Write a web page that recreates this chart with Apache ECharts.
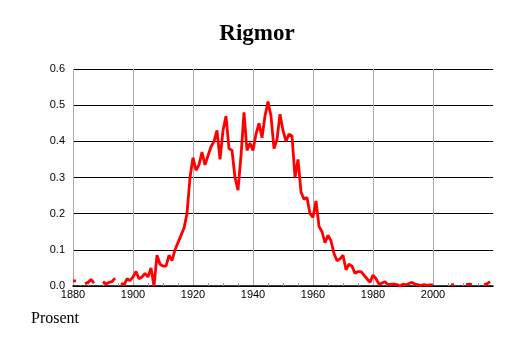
<!DOCTYPE html>
<html>
<head>
<meta charset="utf-8">
<script src="https://cdn.jsdelivr.net/npm/echarts@6/dist/echarts.min.js"></script>
<style>
  html, body { margin: 0; padding: 0; background: #fff; }
  #draw_area { width: 514px; height: 343px; }
</style>
</head>
<body>
<div id="draw_area"></div>
<script>
"use strict";

// årstall og andel (prosent), null = ingen data
var years = [];
for (var y = 1880; y <= 2019; y++) years.push(y);

var values = [
  // 1880-1899
  0.014, 0.014, null, null, 0.006, 0.01, 0.018, 0.008, null, null,
  0.012, 0.005, 0.01, 0.012, 0.022, null, 0.008, 0.003, 0.02, 0.015,
  // 1900-1919
  0.025, 0.04, 0.02, 0.025, 0.035, 0.025, 0.05, 0.0, 0.085, 0.06,
  0.055, 0.055, 0.085, 0.07, 0.1, 0.12, 0.14, 0.16, 0.2, 0.3,
  // 1920-1939
  0.355, 0.32, 0.335, 0.37, 0.335, 0.36, 0.385, 0.4, 0.43, 0.35,
  0.43, 0.47, 0.38, 0.375, 0.3, 0.265, 0.36, 0.48, 0.375, 0.395,
  // 1940-1959
  0.375, 0.42, 0.45, 0.41, 0.47, 0.51, 0.47, 0.38, 0.405, 0.475,
  0.43, 0.4, 0.42, 0.415, 0.3, 0.35, 0.26, 0.24, 0.245, 0.2,
  // 1960-1979
  0.19, 0.235, 0.165, 0.15, 0.12, 0.14, 0.125, 0.09, 0.07, 0.075,
  0.085, 0.045, 0.06, 0.055, 0.035, 0.04, 0.04, 0.03, 0.02, 0.01,
  // 1980-1999
  0.03, 0.02, 0.005, 0.008, 0.012, 0.003, 0.005, 0.005, 0.004, 0.0,
  0.005, 0.003, 0.007, 0.01, 0.005, 0.003, 0.002, 0.004, 0.002, 0.003,
  // 2000-2019
  0.003, null, null, null, null, null, 0.003, 0.004, null, null,
  null, 0.004, 0.005, 0.004, null, null, null, 0.003, 0.006, 0.012
];

var xTicks = [1880, 1900, 1920, 1940, 1960, 1980, 2000];
var yTicks = [0, 0.1, 0.2, 0.3, 0.4, 0.5, 0.6];

var seriesData = years.map(function (yr, i) { return [yr, values[i]]; });

var option = {
  animation: false,
  title: {
    text: 'Rigmor',
    left: 'center',
    top: 18,
    textStyle: { fontFamily: 'Liberation Serif', fontWeight: 'bold', fontSize: 23, color: '#000' }
  },
  graphic: [{
    type: 'text',
    left: 31,
    top: 311,
    style: { text: 'Prosent', font: '16px "Liberation Serif"', fill: '#000' }
  }],
  grid: { left: 73, right: 21, top: 69, bottom: 57 },
  xAxis: {
    type: 'value',
    min: xTicks[0],
    max: 2020,
    interval: 20,
    axisLine: { show: true, lineStyle: { color: '#000', width: 1.5 } },
    axisTick: { show: true, inside: true, length: 0.1, lineStyle: { color: '#aaa' } },
    minorTick: { show: true, splitNumber: 4, length: 3, lineStyle: { color: '#999' } },
    axisLabel: {
      margin: 3,
      fontFamily: 'Liberation Sans',
      fontSize: 11,
      color: '#000',
      showMaxLabel: false,
      formatter: function (v) { return xTicks.indexOf(v) >= 0 ? String(v) : ''; }
    },
    splitLine: { show: true, showMaxLine: false, lineStyle: { color: '#aaa', width: 1 } }
  },
  yAxis: {
    type: 'value',
    min: yTicks[0],
    max: yTicks[yTicks.length - 1],
    interval: 0.1,
    axisLine: { show: false },
    axisTick: { show: false },
    axisLabel: {
      margin: 8,
      fontFamily: 'Liberation Sans',
      fontSize: 11,
      color: '#000',
      formatter: function (v) { return v.toFixed(1); }
    },
    splitLine: { show: true, lineStyle: { color: '#000', width: 1 } }
  },
  series: [{
    type: 'line',
    data: seriesData,
    showSymbol: false,
    connectNulls: false,
    lineStyle: { color: '#ff0000', width: 2.8 },
    itemStyle: { color: '#ff0000' }
  }]
};

var chart_object = echarts.init(document.getElementById('draw_area'));
chart_object.setOption(option);
</script>
</body>
</html>
